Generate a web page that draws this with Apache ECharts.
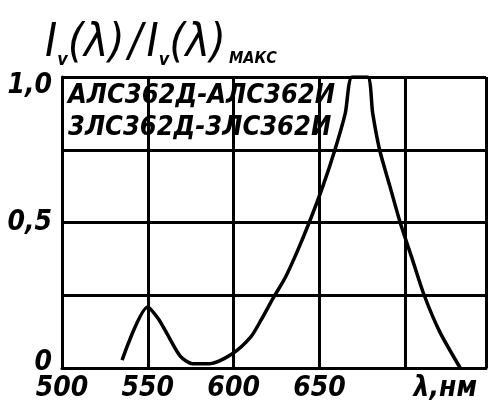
<!DOCTYPE html>
<html>
<head>
<meta charset="utf-8">
<script src="https://cdn.jsdelivr.net/npm/echarts@6/dist/echarts.min.js"></script>
<style>
html,body{margin:0;padding:0;background:#fff;}
#c{width:489px;height:410px;}
</style>
</head>
<body>
<div id="c"></div>
<script>
// wavelength, nm
var wavelengths = [535, 550, 556, 561, 569, 576, 586, 599, 610, 616, 623, 630, 637, 644, 652, 659, 665, 669, 678, 681, 685, 691, 697, 704, 711, 720, 732];
// relative luminous intensity Iv(λ)/Iv(λ)max
var intensity = [0.027, 0.21, 0.17, 0.12, 0.04, 0.015, 0.015, 0.048, 0.107, 0.165, 0.24, 0.31, 0.4, 0.5, 0.625, 0.75, 0.875, 1.0, 1.0, 0.875, 0.75, 0.625, 0.5, 0.375, 0.25, 0.125, 0.0];
var xTickLabels = {500: '500', 550: '550', 600: '600', 650: '650', 700: '{u|λ,нм}'};
var yTickLabels = {0: '{b|0}', 0.5: '0,5', 1: '{t|1,0}'};
var legendLines = ['АЛС362Д-АЛС362И', '3ЛС362Д-3ЛС362И'];

var FONT = '"DejaVu Sans Condensed", "DejaVu Sans", sans-serif';
var chart = echarts.init(document.getElementById('c'), null, {renderer: 'canvas'});
var points = wavelengths.map(function (w, i) { return [w, intensity[i]]; });
var labelBase = {fontFamily: FONT, fontStyle: 'italic', fontWeight: 'bold', fontSize: 28, color: '#000'};
var titleMain = {fontFamily: FONT, fontStyle: 'italic', fontWeight: 'normal', fontSize: 46, color: '#000', verticalAlign: 'bottom', lineHeight: 56};

chart.setOption({
  animation: false,
  backgroundColor: '#fff',
  title: {
    left: 40, top: 6,
    text: '{a|I}{s|v}{a|(λ)}{d|/}{a|I}{s|v}{a|(λ)}{m|МАКС}',
    textStyle: {
      fontWeight: 'normal',
      rich: {
        a: titleMain,
        d: Object.assign({}, titleMain, {padding: [0, 4, 0, 4]}),
        s: {fontFamily: FONT, fontStyle: 'italic', fontWeight: 'bold', fontSize: 18, color: '#000', verticalAlign: 'bottom', lineHeight: 56, padding: [0, 0, -2, 0]},
        m: {fontFamily: FONT, fontStyle: 'italic', fontWeight: 'bold', fontSize: 16, color: '#000', verticalAlign: 'bottom', lineHeight: 56, padding: [0, 0, 0, 3]}
      }
    }
  },
  grid: {left: 62, right: 0, top: 77, bottom: 42, containLabel: false},
  xAxis: {
    type: 'value', min: 500, max: 747, interval: 50,
    axisLine: {show: true, lineStyle: {color: '#000', width: 3}},
    axisTick: {show: false},
    splitLine: {show: true, lineStyle: {color: '#000', width: 3}},
    axisLabel: Object.assign({
      margin: 7,
      formatter: function (v) { return xTickLabels[v] || ''; },
      rich: {u: Object.assign({padding: [0, 0, 0, 80]}, labelBase)}
    }, labelBase)
  },
  yAxis: {
    type: 'value', min: 0, max: 1, interval: 0.25,
    axisLine: {show: true, lineStyle: {color: '#000', width: 3}},
    axisTick: {show: false},
    splitLine: {show: true, lineStyle: {color: '#000', width: 3}},
    axisLabel: Object.assign({
      margin: 10,
      formatter: function (v) { return yTickLabels[v] !== undefined ? yTickLabels[v] : ''; },
      rich: {
        t: Object.assign({padding: [18, 0, 0, 0]}, labelBase),
        b: Object.assign({padding: [0, 0, 10, 0]}, labelBase)
      }
    }, labelBase)
  },
  graphic: [{
    type: 'group', left: 64, top: 79, z: 1,
    children: [
      {type: 'rect', shape: {x: 0, y: 0, width: 272, height: 69}, style: {fill: '#fff'}},
      {type: 'text', x: 4, y: 1, style: {text: legendLines.join('\n'), fill: '#000', font: 'italic bold 27px ' + FONT, lineHeight: 32}}
    ]
  }],
  series: [{
    type: 'line', data: points, showSymbol: false, smooth: 0.25, z: 3,
    lineStyle: {color: '#000', width: 3.5}
  }]
});
</script>
</body>
</html>
